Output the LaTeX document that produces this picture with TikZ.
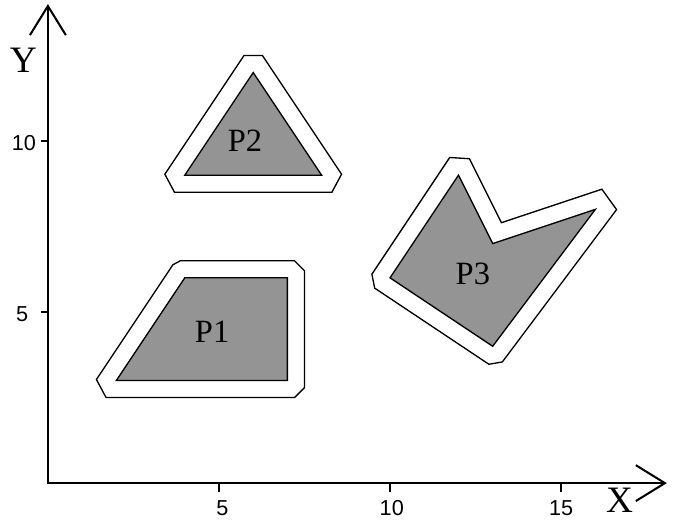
\documentclass[tikz,border=0pt]{standalone}
\usepackage{fontspec}
\setmainfont{Liberation Serif}
\newfontfamily\ticksf{Liberation Sans}
\usetikzlibrary{arrows.meta}

\begin{document}
\begin{tikzpicture}[
    >={Straight Barb[length=0.85cm, width=1.05cm]},
    axis/.style={<->, line width=1.7pt, line join=miter},
    tick/.style={line width=1.3pt},
    zone/.style={draw, line width=1.1pt, fill=white},
    obst/.style={draw, line width=1.1pt, fill=black!42},
    plbl/.style={font=\fontsize{27}{27}\selectfont, inner sep=0pt},
    albl/.style={font=\fontsize{31}{31}\selectfont, inner sep=0pt},
    tlbl/.style={font=\ticksf\fontsize{18}{18}\selectfont, inner sep=0pt}
]

\useasboundingbox (-1.40,-1.14) rectangle (18.27,14.12);

% AXES
\coordinate (O) at (0,0);
\coordinate (xend) at (18.09,0);
\coordinate (yend) at (0,14.0);
\draw[axis] (yend) -- (O) -- (xend);

\node[albl] (xlab) at (16.71,-0.50) {X};
\node[albl] (ylab) at (-0.72,12.37) {Y};

% TICKS
\draw[tick] (5,0) -- (5,-0.25);
\draw[tick] (10,0) -- (10,-0.25);
\draw[tick] (15,0) -- (15,-0.25);
\draw[tick] (0,5) -- (-0.2,5);
\draw[tick] (0,10) -- (-0.2,10);

\node[tlbl] (xt5) at (5.10,-0.72) {5};
\node[tlbl] (xt10) at (10.05,-0.72) {10};
\node[tlbl] (xt15) at (15.00,-0.72) {15};
\node[tlbl] (yt5) at (-0.75,4.95) {5};
\node[tlbl] (yt10) at (-0.70,9.95) {10};

% P1 (buffer, then obstacle)
\draw[zone] (1.7005,2.5) -- (7.2071,2.5) -- (7.5,2.7929) -- (7.5,6.2071)
    -- (7.2071,6.5) -- (3.8746,6.5) -- (3.6535,6.3817) -- (1.4178,3.0281) -- cycle;
\draw[obst] (2,3) -- (7,3) -- (7,6) -- (4,6) -- cycle;
\node[plbl] (p1) at (4.80,4.42) {P1};

% P2
\draw[zone] (3.7005,8.5) -- (8.2995,8.5) -- (8.5822,9.0281) -- (6.2676,12.5)
    -- (5.7324,12.5) -- (3.4178,9.0281) -- cycle;
\draw[obst] (4,9) -- (8,9) -- (6,12) -- cycle;
\node[plbl] (p2) at (5.76,10.02) {P2};

% P3
\draw[zone] (9.5503,5.6988) -- (12.8882,3.4736) -- (13.2806,3.5408) -- (16.6205,7.994)
    -- (16.1906,8.5906) -- (13.2533,7.6115) -- (12.3185,9.4811) -- (11.7437,9.5169)
    -- (9.4691,6.1050) -- cycle;
\draw[obst] (10,6) -- (13,4) -- (16,8) -- (13,7) -- (12,9) -- cycle;
\node[plbl] (p3) at (12.42,6.12) {P3};

\end{tikzpicture}
\end{document}
